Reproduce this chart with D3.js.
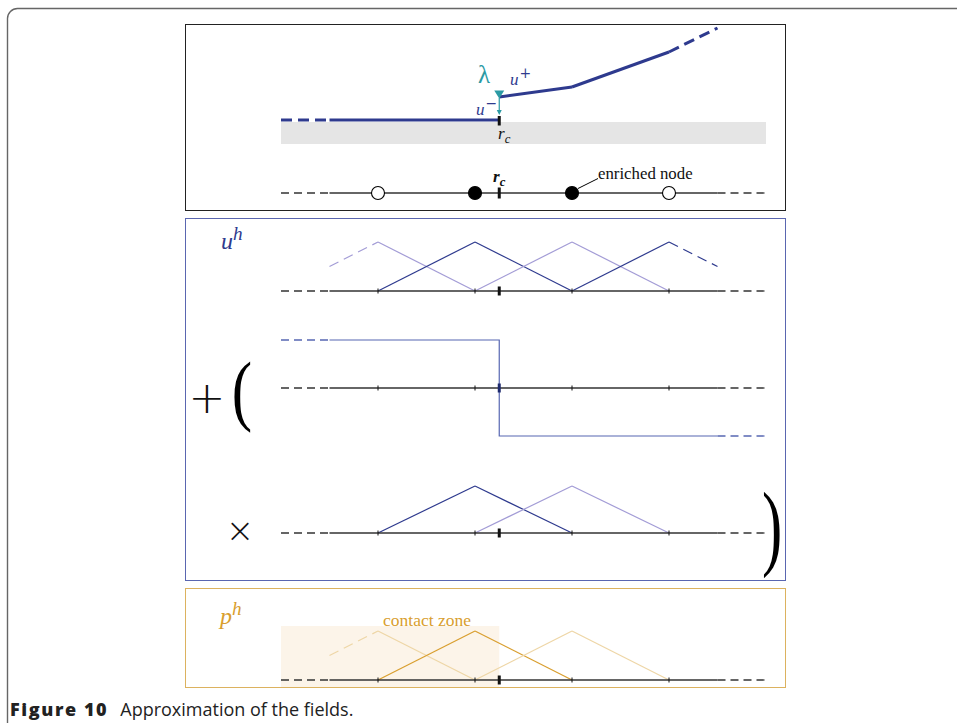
<!DOCTYPE html>
<html><head><meta charset="utf-8">
<script src="https://cdn.jsdelivr.net/npm/d3@7"></script>
<style>html,body{margin:0;padding:0;background:#fff;overflow:hidden}</style>
</head><body>
<svg id="fig" width="957" height="723"></svg>
<script>
// ---------- data (node-index units) ----------
const nodes = [0, 1, 2, 3];
const rc = 1.25;                       // crack / contact position
const axisExtent = [-1, 4];            // full drawn axis (dashed tails)
const solidExtent = [-0.5, 3.5];       // solid part of axis
const enriched = [false, true, true, false];
// displacement field in top panel: [t, u]
const uMinus = [[-1, 0], [-0.5, 0], [1.25, 0]];
const uMinusDashed = [true, false];
const uPlus = [[1.25, 0.23], [2, 0.33], [3, 0.68], [3.5, 0.92]];
const uPlusDashed = [false, false, true];
// standard hat functions for u^h
const uhCenters = [0, 1, 2, 3];
const uhShade = ["light", "dark", "light", "dark"];
// Heaviside step values
const stepLeft = 1, stepRight = -1;
// enrichment hats
const enrCenters = [1, 2];
const enrShade = ["dark", "light"];
// pressure hats
const phCenters = [0, 1, 2];
const phShade = ["light", "dark", "light"];
const contactZone = [-1, 1.25];

// ---------- styles ----------
const C = {
  dark: "#2e3a8e", light: "#a39cd6", step: "#5767b2", teal: "#2b9aa4",
  gold: "#d99e2e", goldLight: "#eed6a6", zone: "#fcf4e9", axis: "#333",
  blueBorder: "#5a66b0", goldBorder: "#dcb25f"
};
const serif = "'Liberation Serif','DejaVu Serif',serif";

const svg = d3.select("#fig");
const x = d3.scaleLinear().domain([0, 3]).range([378, 669]);

// outer frame
svg.append("rect").attr("x", 7.5).attr("y", 8.5).attr("width", 1000).attr("height", 800)
  .attr("rx", 10).attr("fill", "none").attr("stroke", "#666").attr("stroke-width", 1.4);

// panels
svg.append("rect").attr("x", 185.5).attr("y", 24.5).attr("width", 600).attr("height", 186)
  .attr("fill", "none").attr("stroke", "#222").attr("stroke-width", 1);
svg.append("rect").attr("x", 185.5).attr("y", 218.5).attr("width", 600).attr("height", 362)
  .attr("fill", "none").attr("stroke", C.blueBorder).attr("stroke-width", 1);

// contact zone (below panel 3 border)
const y3 = d3.scaleLinear().domain([0, 1]).range([680, 631]);
svg.append("rect").attr("x", x(contactZone[0])).attr("y", 626)
  .attr("width", x(contactZone[1]) - x(contactZone[0])).attr("height", 62)
  .attr("fill", C.zone);
svg.append("rect").attr("x", 185.5).attr("y", 588.5).attr("width", 600).attr("height", 99)
  .attr("fill", "none").attr("stroke", C.goldBorder).attr("stroke-width", 1);

const line = d3.line().x(d => x(d[0])).y(d => d[1]);

function axis(y, opts = {}) {
  const g = svg.append("g");
  const col = opts.color || C.axis;
  g.append("path").attr("d", line([[axisExtent[0], y], [solidExtent[0], y]]))
    .attr("stroke", col).attr("stroke-width", 1.3).attr("stroke-dasharray", "8,5").attr("fill", "none");
  g.append("path").attr("d", line([[solidExtent[1], y], [axisExtent[1], y]]))
    .attr("stroke", col).attr("stroke-width", 1.3).attr("stroke-dasharray", "8,5").attr("fill", "none");
  g.append("path").attr("d", line([[solidExtent[0], y], [solidExtent[1], y]]))
    .attr("stroke", col).attr("stroke-width", 1.3).attr("fill", "none");
  if (opts.ticks !== false) {
    g.selectAll(".tk").data(nodes).join("line")
      .attr("x1", d => x(d)).attr("x2", d => x(d)).attr("y1", y - 2.5).attr("y2", y + 2.5)
      .attr("stroke", "#111").attr("stroke-width", 1);
  }
  g.append("rect").attr("x", x(rc) - 1.5).attr("y", y - (opts.rcHalf || 4.5))
    .attr("width", 3).attr("height", 2 * (opts.rcHalf || 4.5)).attr("fill", opts.rcColor || "#111");
  return g;
}

function hats(centers, shades, yS, colors) {
  centers.forEach((c, i) => {
    const col = shades[i] === "dark" ? colors.dark : colors.light;
    const segs = [];
    const l0 = Math.max(c - 1, solidExtent[0]);
    segs.push([[l0, 1 - (c - l0)], [c, 1]]);
    const r1 = Math.min(c + 1, solidExtent[1]);
    segs.push([[c, 1], [r1, 1 - (r1 - c)]]);
    segs.forEach(s => {
      const dashed = s[0][0] < 0 || s[1][0] > 3;
      svg.append("path")
        .attr("d", d3.line().x(d => x(d[0])).y(d => yS(d[1]))(s))
        .attr("fill", "none").attr("stroke", col).attr("stroke-width", 1.2)
        .attr("stroke-dasharray", dashed ? "10,6" : null);
    });
  });
}

// ---------- panel 1 ----------
const y1 = d3.scaleLinear().domain([0, 1]).range([120, 20]);
svg.append("rect").attr("x", x(axisExtent[0])).attr("y", 122)
  .attr("width", x(axisExtent[1]) - x(axisExtent[0])).attr("height", 22).attr("fill", "#e5e5e5");
const uLine = d3.line().x(d => x(d[0])).y(d => y1(d[1]));
function thick(pts, dashedFlags) {
  for (let i = 0; i < pts.length - 1; i++) {
    svg.append("path").attr("d", uLine([pts[i], pts[i + 1]]))
      .attr("fill", "none").attr("stroke", C.dark).attr("stroke-width", 3)
      .attr("stroke-linejoin", "round")
      .attr("stroke-dasharray", dashedFlags[i] ? "11,6" : null);
  }
}
thick(uMinus, uMinusDashed);
thick(uPlus, uPlusDashed);
// rc tick on top
svg.append("rect").attr("x", x(rc) - 1.5).attr("y", 116).attr("width", 3).attr("height", 9.5).attr("fill", "#111");
// lambda marker
const tx = x(rc);
const ty = y1(uPlus[0][1]);
svg.append("path").attr("d", `M${tx - 5},${ty - 6.5}L${tx + 5},${ty - 6.5}L${tx},${ty + 1.5}Z`).attr("fill", C.teal);
svg.append("line").attr("x1", tx).attr("x2", tx).attr("y1", ty + 1).attr("y2", 113)
  .attr("stroke", C.teal).attr("stroke-width", 1.2);
svg.append("path").attr("d", `M${tx - 2.5},${110}L${tx + 2.5},${110}L${tx},${115}Z`).attr("fill", C.teal);
svg.append("text").attr("x", 484).attr("y", 83).attr("text-anchor", "middle")
  .attr("font-family", serif).attr("font-size", 25).attr("fill", C.teal).text("λ");
function supLabel(xx, yy, base, sup, size, color) {
  const t = svg.append("text").attr("x", xx).attr("y", yy).attr("font-family", serif)
    .attr("font-style", "italic").attr("font-size", size).attr("fill", color);
  t.append("tspan").text(base);
  t.append("tspan").attr("dx", 1).attr("dy", -size * 0.42).attr("font-size", size * 0.82)
    .attr("font-style", "normal").attr("font-family", "'DejaVu Serif',serif").text(sup);
  return t;
}
function supItal(xx, yy, base, sup, size, color) {
  const t = svg.append("text").attr("x", xx).attr("y", yy).attr("font-family", serif)
    .attr("font-style", "italic").attr("font-size", size).attr("fill", color);
  t.append("tspan").text(base);
  t.append("tspan").attr("dy", -size * 0.36).attr("font-size", size * 0.8).text(sup);
  return t;
}
function subLabel(xx, yy, base, sub, size, color, bold) {
  const t = svg.append("text").attr("x", xx).attr("y", yy).attr("font-family", serif)
    .attr("font-style", "italic").attr("font-size", size).attr("fill", color)
    .attr("font-weight", bold ? "bold" : "normal");
  t.append("tspan").text(base);
  t.append("tspan").attr("dy", size * 0.25).attr("font-size", size * 0.75).text(sub);
  return t;
}
supLabel(510, 85, "u", "+", 17, C.dark);
supLabel(476, 115, "u", "−", 17, C.dark);
subLabel(498, 139, "r", "c", 17, "#111");

// bottom line of panel 1
axis(193, { ticks: false, rcHalf: 5.5 });
svg.selectAll(".node").data(nodes).join("circle")
  .attr("cx", d => x(d)).attr("cy", 193).attr("r", 6.5)
  .attr("fill", (d, i) => enriched[i] ? "#000" : "#fff").attr("stroke", "#000").attr("stroke-width", 1.1);
subLabel(493, 182, "r", "c", 17, "#111", true);
svg.append("line").attr("x1", x(2) + 6).attr("y1", 188.5).attr("x2", 598).attr("y2", 178.5)
  .attr("stroke", "#000").attr("stroke-width", 1);
svg.append("text").attr("x", 598).attr("y", 179).attr("font-family", serif).attr("font-size", 16.8)
  .attr("fill", "#111").text("enriched node");

// ---------- panel 2 ----------
supItal(221, 249, "u", "h", 24, C.dark);
const y2a = d3.scaleLinear().domain([0, 1]).range([291, 242]);
hats(uhCenters, uhShade, y2a, { dark: C.dark, light: C.light });
axis(291);

const y2b = d3.scaleLinear().domain([-1, 1]).range([436, 340]);
const stepPts = [[solidExtent[0], stepLeft], [rc, stepLeft], [rc, stepRight], [solidExtent[1], stepRight]];
svg.append("path").attr("d", d3.line().x(d => x(d[0])).y(d => y2b(d[1]))(stepPts))
  .attr("fill", "none").attr("stroke", C.step).attr("stroke-width", 1.2);
svg.append("path").attr("d", d3.line().x(d => x(d[0])).y(d => y2b(d[1]))([[axisExtent[0], stepLeft], [solidExtent[0], stepLeft]]))
  .attr("fill", "none").attr("stroke", C.step).attr("stroke-width", 1.3).attr("stroke-dasharray", "8,5");
svg.append("path").attr("d", d3.line().x(d => x(d[0])).y(d => y2b(d[1]))([[solidExtent[1], stepRight], [axisExtent[1], stepRight]]))
  .attr("fill", "none").attr("stroke", C.step).attr("stroke-width", 1.3).attr("stroke-dasharray", "8,5");
axis(y2b(0), { rcColor: "#1e2a6e" });

// + (
svg.append("text").attr("x", 207).attr("y", 413).attr("text-anchor", "middle")
  .attr("font-family", "'DejaVu Sans',sans-serif").attr("font-weight", 200).attr("font-size", 44).attr("fill", "#111").text("+");
svg.append("text").attr("transform", "translate(242,416) scale(0.85,1.1)").attr("text-anchor", "middle")
  .attr("font-family", serif).attr("font-size", 72).attr("fill", "#000").text("(");

const y2c = d3.scaleLinear().domain([0, 1]).range([533, 486]);
hats(enrCenters, enrShade, y2c, { dark: C.dark, light: C.light });
axis(533);
svg.append("text").attr("x", 240).attr("y", 542).attr("text-anchor", "middle")
  .attr("font-family", "'DejaVu Sans',sans-serif").attr("font-weight", 200).attr("font-size", 34).attr("fill", "#111").text("×");
svg.append("text").attr("transform", "translate(772,558) scale(0.8,1.25)").attr("text-anchor", "middle")
  .attr("font-family", serif).attr("font-size", 76).attr("fill", "#000").text(")");

// ---------- panel 3 ----------
supItal(220, 624, "p", "h", 24, C.gold);
svg.append("text").attr("x", 427).attr("y", 626).attr("text-anchor", "middle")
  .attr("font-family", serif).attr("font-size", 17.5).attr("fill", C.gold).text("contact zone");
hats(phCenters, phShade, y3, { dark: C.gold, light: C.goldLight });
axis(680);

// caption
const cap = svg.append("text").attr("x", 10).attr("y", 716).attr("font-family", "'Open Sans','Noto Sans',sans-serif")
  .attr("font-size", 18).attr("fill", "#222");
cap.append("tspan").attr("font-weight", 800).attr("letter-spacing", 1.6).text("Figure 10");
cap.append("tspan").attr("dx", 12).text("Approximation of the fields.");
</script>
</body></html>
